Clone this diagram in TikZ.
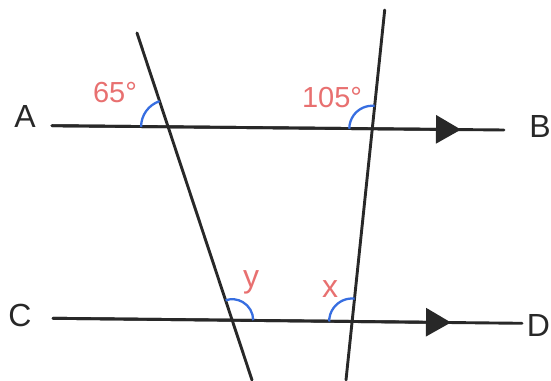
\documentclass[tikz,border=0pt]{standalone}
\usepackage{fontspec}
\setmainfont{Liberation Sans}
\usetikzlibrary{arrows.meta,intersections}
\definecolor{lbl}{RGB}{232,112,112}
\definecolor{arcblue}{RGB}{55,110,225}
\definecolor{ink}{RGB}{40,40,40}
\begin{document}
\begin{tikzpicture}[x=1pt,y=1pt,
  line/.style={draw=ink,line width=2.9pt,line cap=round},
  angarc/.style={draw=arcblue,line width=2.3pt},
  ptlabel/.style={font=\fontsize{32}{36}\selectfont,text=ink,inner sep=0pt},
  anglabel/.style={font=\fontsize{29}{33}\selectfont,text=lbl,inner sep=0pt},
  varlabel/.style={font=\fontsize{32}{35}\selectfont,text=lbl,inner sep=0pt,anchor=base},
  tip/.style={-{Triangle[length=25pt,width=28pt]}}]
\useasboundingbox (0,0) rectangle (551,380);
% parallel lines
\coordinate (a) at (52,254.3);
\coordinate (b) at (504,250);
\coordinate (abtip) at (461,250.4);
\coordinate (c) at (53,61.7);
\coordinate (d) at (522,56.7);
\coordinate (cdtip) at (451,57.5);
% transversals
\coordinate (t1) at (137,347);
\coordinate (t2) at (252,0);
\coordinate (s1) at (384.7,370);
\coordinate (s2) at (346,0);
\path[name path=AB] (a) -- (b);
\path[name path=CD] (c) -- (d);
\path[name path=T] (t1) -- (t2);
\path[name path=S] (s1) -- (s2);
\path[name intersections={of=AB and T,by=p1}];
\path[name intersections={of=AB and S,by=p2}];
\path[name intersections={of=CD and T,by=p3}];
\path[name intersections={of=CD and S,by=p4}];
\draw[line] (a) -- (b);
\draw[line,tip] (a) -- (abtip);
\draw[line] (c) -- (d);
\draw[line,tip] (c) -- (cdtip);
\draw[line] (t1) -- (t2);
\draw[line] (s1) -- (s2);
% angle arcs
\draw[angarc] ([shift={(108.3:27)}]p1) arc (108.3:180:27);
\draw[angarc] ([shift={(84:23)}]p2) arc (84:180:23);
\draw[angarc] ([shift={(0:21)}]p3) arc (0:108.3:21);
\draw[angarc] ([shift={(84:23)}]p4) arc (84:180:23);
% labels
\node[ptlabel] (A) at (25,263.5) {A};
\node[ptlabel] (B) at (540,253.5) {B};
\node[ptlabel] (C) at (20,65) {C};
\node[ptlabel] (D) at (538.5,55) {D};
\node[anglabel] (l65) at (115,287) {65°};
\node[anglabel] (l105) at (332,282) {105°};
\node[varlabel] (ly) at (251,92) {y};
\node[varlabel] (lx) at (330,82) {x};
\end{tikzpicture}
\end{document}
